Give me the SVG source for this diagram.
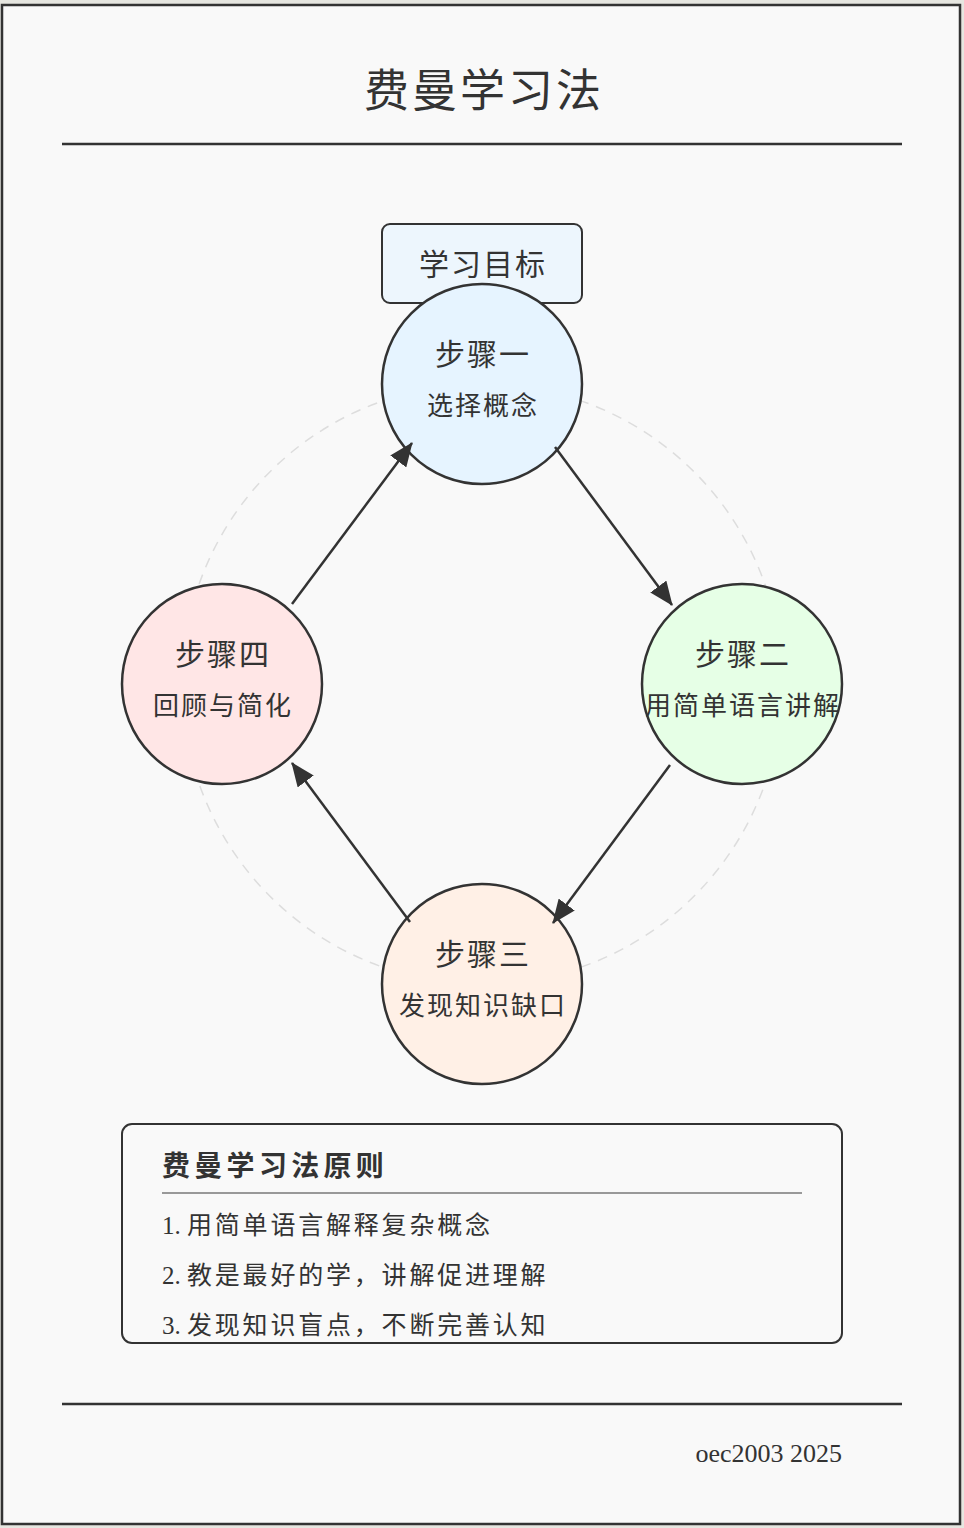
<svg xmlns="http://www.w3.org/2000/svg" width="964" height="1528" viewBox="0 0 964 1528">
<defs>
<marker id="arrow" viewBox="0 0 24 20" refX="23" refY="10" markerWidth="24" markerHeight="20" orient="auto" markerUnits="userSpaceOnUse">
<path d="M0,0 L24,10 L0,20 z" fill="#333"/>
</marker>
</defs>
<style>
text{font-family:"Liberation Serif","Noto Sans CJK SC",serif;fill:#333}
.node{stroke:#333;stroke-width:2.5}
.t1{font-size:30px;text-anchor:middle;letter-spacing:2px}
.t2{font-size:26px;text-anchor:middle;letter-spacing:2px}
.conn line{stroke:#333;stroke-width:2.5;marker-end:url(#arrow)}
.item{font-size:25px;letter-spacing:2.8px}
.num{letter-spacing:0}
</style>
<rect x="0" y="0" width="964" height="1528" fill="#e6e6e0"/>
<rect x="2" y="5" width="958" height="1519" fill="#f9f9f9" stroke="#333" stroke-width="2.5"/>
<g id="title">
<text x="484" y="107" style="font-size:45px;text-anchor:middle;letter-spacing:3px">费曼学习法</text>
<line x1="62" y1="144" x2="902" y2="144" stroke="#333" stroke-width="2.5"/>
</g>
<circle id="cycle" cx="482" cy="684" r="300" fill="none" stroke="#ddd" stroke-width="1.5" stroke-dasharray="10,8"/>
<g id="goal">
<rect x="382" y="224" width="200" height="79" rx="8" fill="#edf6fd" stroke="#333" stroke-width="2"/>
<text class="t1" x="483" y="275">学习目标</text>
</g>
<g id="step1">
<circle class="node" cx="482" cy="384" r="100" fill="#e6f4ff"/>
<text class="t1" x="483" y="365">步骤一</text>
<text class="t2" x="483" y="415">选择概念</text>
</g>
<g id="step2">
<circle class="node" cx="742" cy="684" r="100" fill="#e6ffe6"/>
<text class="t1" x="743" y="665">步骤二</text>
<text class="t2" x="743" y="715">用简单语言讲解</text>
</g>
<g id="step3">
<circle class="node" cx="482" cy="984" r="100" fill="#fff0e6"/>
<text class="t1" x="483" y="965">步骤三</text>
<text class="t2" x="483" y="1015">发现知识缺口</text>
</g>
<g id="step4">
<circle class="node" cx="222" cy="684" r="100" fill="#ffe6e6"/>
<text class="t1" x="223" y="665">步骤四</text>
<text class="t2" x="223" y="715">回顾与简化</text>
</g>
<g id="connectors" class="conn">
<line x1="555" y1="447" x2="672" y2="605"/>
<line x1="670" y1="765" x2="553" y2="923"/>
<line x1="410" y1="922" x2="292" y2="763"/>
<line x1="292" y1="604" x2="412" y2="443"/>
</g>
<g id="principles">
<rect x="122" y="1124" width="720" height="219" rx="10" fill="#f9f9f9" stroke="#333" stroke-width="2"/>
<text x="162" y="1176" style="font-size:28px;font-weight:bold;letter-spacing:4.3px">费曼学习法原则</text>
<line x1="162" y1="1193" x2="802" y2="1193" stroke="#999" stroke-width="2"/>
<text class="item" x="162" y="1234"><tspan class="num">1. </tspan>用简单语言解释复杂概念</text>
<text class="item" x="162" y="1284"><tspan class="num">2. </tspan>教是最好的学，讲解促进理解</text>
<text class="item" x="162" y="1334"><tspan class="num">3. </tspan>发现知识盲点，不断完善认知</text>
</g>
<g id="footer">
<line x1="62" y1="1404" x2="902" y2="1404" stroke="#333" stroke-width="2.5"/>
<text x="842" y="1462" style="font-size:26px;text-anchor:end">oec2003 2025</text>
</g>
</svg>
